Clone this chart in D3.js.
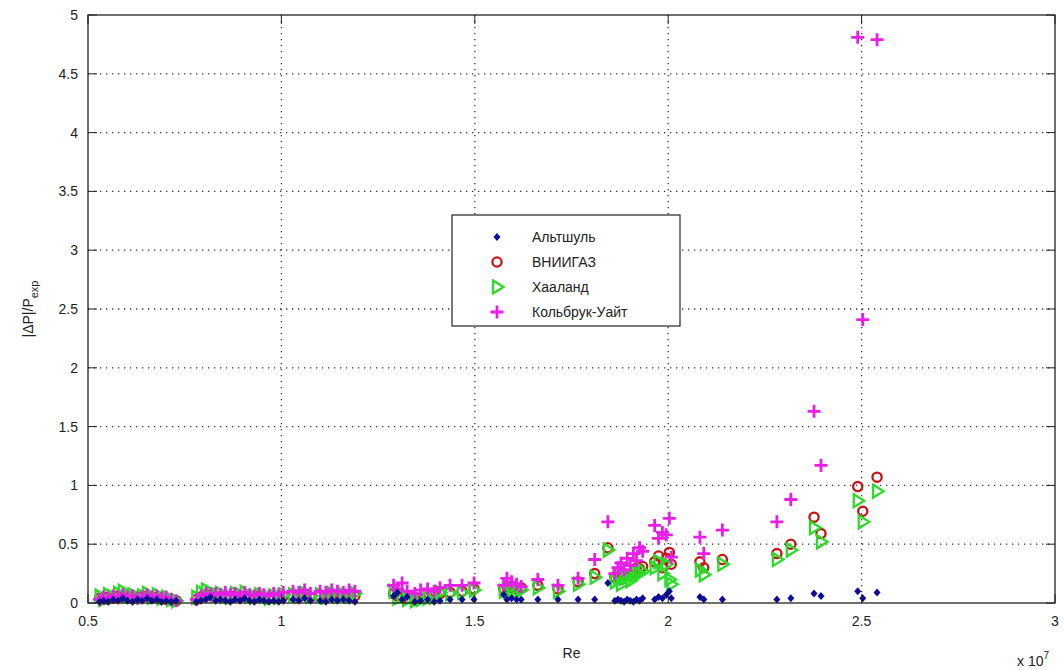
<!DOCTYPE html>
<html>
<head>
<meta charset="utf-8">
<script src="https://cdn.jsdelivr.net/npm/d3@7"></script>
<style>
  body { margin: 0; background: #fff; }
  svg { font-family: "Liberation Sans", Arial, sans-serif; }
  .tick-label { font-size: 14px; fill: #222; }
</style>
</head>
<body>
<svg id="chart" width="1064" height="670"></svg>
<script>
// Re values (x 10^7), shared by all four series
const re = [
  0.530, 0.540, 0.552, 0.565, 0.578, 0.590, 0.602, 0.615, 0.628, 0.640, 0.653, 0.665, 0.678, 0.690, 0.702, 0.715, 0.728,
  0.780, 0.792, 0.805, 0.817, 0.830, 0.842, 0.855, 0.868, 0.880, 0.893, 0.905, 0.918, 0.930, 0.943, 0.955, 0.968, 0.980, 0.993, 1.005, 1.030, 1.045, 1.060, 1.075,
  1.100, 1.115, 1.130, 1.145, 1.160, 1.175, 1.190,
  1.290, 1.300, 1.312, 1.325, 1.345, 1.360, 1.378, 1.395, 1.410, 1.436, 1.467, 1.498,
  1.575, 1.583, 1.595, 1.608, 1.620, 1.663, 1.715, 1.767, 1.810, 1.844,
  1.862, 1.870, 1.878, 1.886, 1.894, 1.902, 1.910, 1.918, 1.926, 1.934,
  1.965, 1.975, 1.985, 1.995, 2.003, 2.008,
  2.082, 2.092, 2.140, 2.281, 2.317, 2.377, 2.395, 2.490, 2.503, 2.540
];
const altshul = [
  0.01, 0.02, 0.01, 0.03, 0.02, 0.04, 0.02, 0.01, 0.03, 0.02, 0.04, 0.02, 0.03, 0.01, 0.02, 0.01, 0.02,
  0.01, 0.02, 0.03, 0.05, 0.02, 0.03, 0.02, 0.01, 0.03, 0.02, 0.04, 0.02, 0.01, 0.03, 0.02, 0.01, 0.02, 0.01, 0.02, 0.03, 0.02, 0.04, 0.02,
  0.02, 0.01, 0.03, 0.02, 0.03, 0.02, 0.01,
  0.06, 0.09, 0.03, 0.05, 0.01, 0.02, 0.03, 0.01, 0.02, 0.03, 0.03, 0.03,
  0.07, 0.03, 0.04, 0.03, 0.03, 0.03, 0.03, 0.03, 0.03, 0.17,
  0.02, 0.03, 0.02, 0.01, 0.03, 0.02, 0.01, 0.03, 0.02, 0.04,
  0.03, 0.05, 0.04, 0.07, 0.10, 0.04,
  0.05, 0.03, 0.03, 0.03, 0.04, 0.08, 0.06, 0.10, 0.04, 0.09
];
const vniigaz = [
  0.04, 0.03, 0.05, 0.04, 0.06, 0.05, 0.04, 0.05, 0.04, 0.05, 0.06, 0.04, 0.05, 0.04, 0.03, 0.03, 0.02,
  0.03, 0.05, 0.07, 0.06, 0.05, 0.06, 0.05, 0.04, 0.06, 0.05, 0.06, 0.05, 0.04, 0.06, 0.05, 0.04, 0.05, 0.04, 0.06, 0.06, 0.05, 0.07, 0.05,
  0.06, 0.05, 0.06, 0.05, 0.06, 0.05, 0.06,
  0.08, 0.06, 0.05, 0.04, 0.03, 0.04, 0.05, 0.06, 0.08, 0.09, 0.10, 0.12,
  0.12, 0.14, 0.13, 0.12, 0.13, 0.15, 0.12, 0.18, 0.25, 0.47,
  0.22, 0.26, 0.20, 0.25, 0.28, 0.23, 0.27, 0.30, 0.29, 0.31,
  0.35, 0.40, 0.30, 0.38, 0.43, 0.33,
  0.35, 0.30, 0.37, 0.42, 0.50, 0.73, 0.59, 0.99, 0.78, 1.07
];
const haaland = [
  0.06, 0.03, 0.07, 0.05, 0.08, 0.10, 0.06, 0.07, 0.05, 0.06, 0.08, 0.05, 0.07, 0.04, 0.05, 0.03, 0.02,
  0.05, 0.09, 0.11, 0.09, 0.07, 0.08, 0.06, 0.05, 0.08, 0.07, 0.09, 0.06, 0.05, 0.07, 0.06, 0.04, 0.06, 0.05, 0.07, 0.07, 0.06, 0.08, 0.06,
  0.07, 0.05, 0.08, 0.06, 0.07, 0.06, 0.08,
  0.10, 0.04, 0.06, 0.03, 0.02, 0.03, 0.04, 0.05, 0.09, 0.08, 0.09, 0.11,
  0.10, 0.12, 0.11, 0.10, 0.11, 0.13, 0.10, 0.16, 0.22, 0.45,
  0.18, 0.22, 0.16, 0.21, 0.24, 0.19, 0.23, 0.26, 0.25, 0.27,
  0.30, 0.35, 0.25, 0.33, 0.20, 0.16,
  0.28, 0.24, 0.33, 0.37, 0.45, 0.64, 0.52, 0.87, 0.69, 0.95
];
const colebrook = [
  0.03, 0.05, 0.04, 0.06, 0.05, 0.07, 0.05, 0.06, 0.04, 0.05, 0.07, 0.05, 0.06, 0.04, 0.05, 0.03, 0.02,
  0.03, 0.06, 0.08, 0.07, 0.08, 0.07, 0.09, 0.07, 0.08, 0.06, 0.09, 0.07, 0.06, 0.08, 0.07, 0.06, 0.08, 0.07, 0.09, 0.10, 0.09, 0.11, 0.08,
  0.10, 0.09, 0.11, 0.10, 0.09, 0.11, 0.10,
  0.15, 0.12, 0.17, 0.10, 0.08, 0.11, 0.12, 0.10, 0.13, 0.15, 0.15, 0.17,
  0.15, 0.21, 0.18, 0.16, 0.14, 0.20, 0.15, 0.21, 0.37, 0.69,
  0.25, 0.30, 0.34, 0.28, 0.38, 0.32, 0.42, 0.36, 0.47, 0.44,
  0.66, 0.55, 0.60, 0.58, 0.72, 0.39,
  0.56, 0.42, 0.62, 0.69, 0.88, 1.63, 1.17, 4.81, 2.41, 4.79
];

const xTicks = [0.5, 1, 1.5, 2, 2.5, 3];
const yTicks = [0, 0.5, 1, 1.5, 2, 2.5, 3, 3.5, 4, 4.5, 5];
const seriesNames = ['Альтшуль', 'ВНИИГАЗ', 'Хааланд', 'Кольбрук-Уайт'];

const margin = { top: 15, right: 9, bottom: 67, left: 88 };
const width = 1064 - margin.left - margin.right;
const height = 670 - margin.top - margin.bottom;

const svg = d3.select('#chart');
const chart = svg.append('g').attr('transform', `translate(${margin.left},${margin.top})`);

const xScale = d3.scaleLinear().domain([0.5, 3]).range([0, width]);
const yScale = d3.scaleLinear().domain([0, 5]).range([height, 0]);

// dotted grid
chart.append('g').selectAll('line').data(xTicks.slice(1, -1)).enter().append('line')
  .attr('x1', d => xScale(d)).attr('x2', d => xScale(d))
  .attr('y1', 0).attr('y2', height)
  .attr('stroke', '#333').attr('stroke-width', 1.3).attr('stroke-dasharray', '1.3,4.7');
chart.append('g').selectAll('line').data(yTicks.slice(1, -1)).enter().append('line')
  .attr('y1', d => yScale(d)).attr('y2', d => yScale(d))
  .attr('x1', 0).attr('x2', width)
  .attr('stroke', '#333').attr('stroke-width', 1.3).attr('stroke-dasharray', '1.3,4.7');

// markers
const points = re.map((x, i) => ({ x, alt: altshul[i], vn: vniigaz[i], ha: haaland[i], co: colebrook[i] }));
const markers = {
  vn: g => g.append('circle').attr('r', 4.6).attr('fill', 'none').attr('stroke', '#c41616').attr('stroke-width', 2.3),
  ha: g => g.append('path').attr('d', 'M-4,-6.5L6.5,0L-4,6.5Z').attr('fill', 'none').attr('stroke', '#28dc28').attr('stroke-width', 2.3),
  co: g => g.append('path').attr('d', 'M-6.5,0H6.5M0,-6.5V6.5').attr('stroke', '#e81ee8').attr('stroke-width', 2.8),
  alt: g => g.append('path').attr('d', 'M0,-4L3.5,0L0,4L-3.5,0Z').attr('fill', '#0c0c96')
};

['vn', 'ha', 'co', 'alt'].forEach(key => {
  chart.append('g').selectAll('g').data(points).enter().append('g')
    .attr('transform', d => `translate(${xScale(d.x)},${yScale(d[key])})`)
    .each(function () { markers[key](d3.select(this)); });
});

// axes box with inward ticks
const axisColor = '#222';
chart.append('rect').attr('width', width).attr('height', height)
  .attr('fill', 'none').attr('stroke', axisColor).attr('stroke-width', 1.3);

const tickLen = 9;
xTicks.forEach(t => {
  chart.append('line').attr('x1', xScale(t)).attr('x2', xScale(t))
    .attr('y1', height).attr('y2', height - tickLen).attr('stroke', axisColor);
  chart.append('line').attr('x1', xScale(t)).attr('x2', xScale(t))
    .attr('y1', 0).attr('y2', tickLen).attr('stroke', axisColor);
  chart.append('text').attr('class', 'tick-label')
    .attr('x', xScale(t)).attr('y', height + 23)
    .attr('text-anchor', 'middle').text(t);
});
yTicks.forEach(t => {
  chart.append('line').attr('y1', yScale(t)).attr('y2', yScale(t))
    .attr('x1', 0).attr('x2', tickLen).attr('stroke', axisColor);
  chart.append('line').attr('y1', yScale(t)).attr('y2', yScale(t))
    .attr('x1', width).attr('x2', width - tickLen).attr('stroke', axisColor);
  chart.append('text').attr('class', 'tick-label')
    .attr('x', -10).attr('y', yScale(t) + 5)
    .attr('text-anchor', 'end').text(t);
});

// axis labels
chart.append('text').attr('class', 'tick-label')
  .attr('x', xScale(1.75)).attr('y', height + 55)
  .attr('text-anchor', 'middle').text('Re');

const expo = chart.append('text').attr('class', 'tick-label')
  .attr('x', width - 38).attr('y', height + 63);
expo.append('tspan').text('x 10');
expo.append('tspan').attr('dy', -7).style('font-size', '10px').text('7');

const ylab = chart.append('text').attr('class', 'tick-label')
  .attr('transform', `translate(-55,${height / 2}) rotate(-90)`)
  .attr('text-anchor', 'middle');
ylab.append('tspan').text('|ΔP|/P');
ylab.append('tspan').attr('dy', 5).style('font-size', '11px').text('exp');

// legend
const legend = svg.append('g').attr('transform', 'translate(452,215)');
legend.append('rect').attr('width', 228).attr('height', 111)
  .attr('fill', '#fff').attr('stroke', axisColor).attr('stroke-width', 1.2);
const legendKeys = ['alt', 'vn', 'ha', 'co'];
seriesNames.forEach((name, i) => {
  const row = legend.append('g').attr('transform', `translate(0,${22 + i * 25})`);
  markers[legendKeys[i]](row.append('g').attr('transform', 'translate(45,0)'));
  row.append('text').attr('class', 'tick-label')
    .attr('x', 80).attr('y', 5).text(name);
});
</script>
</body>
</html>
